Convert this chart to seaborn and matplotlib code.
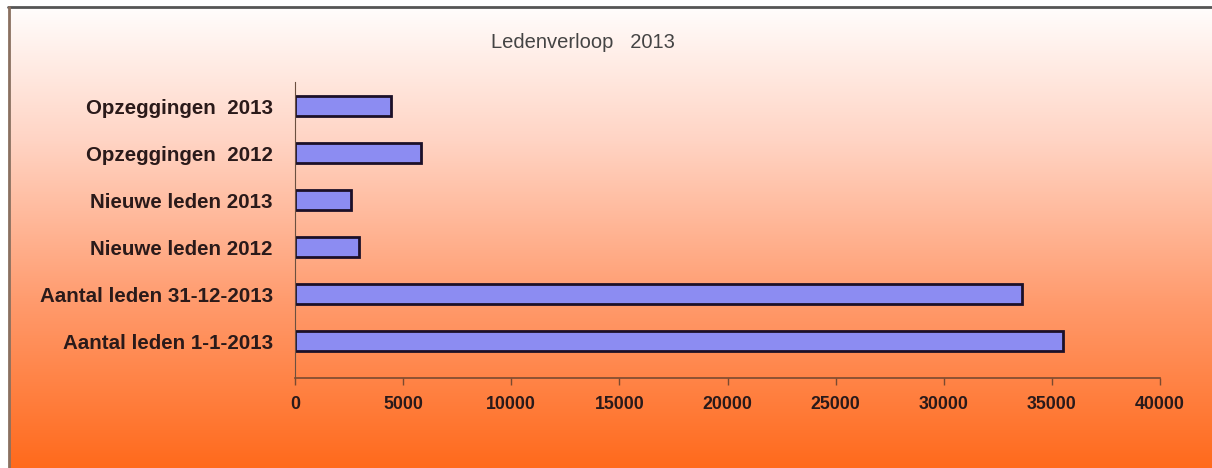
import numpy as np
import pandas as pd
import matplotlib
matplotlib.use("Agg")
import matplotlib.pyplot as plt
from matplotlib.colors import LinearSegmentedColormap
import seaborn as sns

# Data (top to bottom as shown)
categories = ["Opzeggingen  2013", "Opzeggingen  2012", "Nieuwe leden 2013",
              "Nieuwe leden 2012", "Aantal leden 31-12-2013", "Aantal leden 1-1-2013"]
values = [4420, 5840, 2570, 2960, 33600, 35500]
x_ticks = [0, 5000, 10000, 15000, 20000, 25000, 30000, 35000, 40000]
title = "Ledenverloop   2013"

df = pd.DataFrame({"categorie": categories, "aantal": values})

sns.set_style("white")
plt.rcParams["font.family"] = ["Liberation Sans", "DejaVu Sans"]

fig = plt.figure(figsize=(12.12, 4.68), dpi=100)

# Background gradient (white on top, orange at the bottom)
bg = fig.add_axes([0, 0, 1, 1], zorder=-10)
grad_cmap = LinearSegmentedColormap.from_list(
    "bg", [(0.0, "#ff6a1c"), (0.35, "#ff9a6c"), (0.7, "#ffd4c4"), (1.0, "#ffffff")])
grad = np.linspace(0, 1, 256).reshape(-1, 1)
bg.imshow(grad, aspect="auto", cmap=grad_cmap, origin="lower",
          extent=[0, 1, 0, 1])
bg.set_xlim(0, 1)
bg.set_ylim(0, 1)
bg.axis("off")
# frame at top and left
bg.plot([8 / 1212, 1], [1 - 7 / 468, 1 - 7 / 468], color="#555555", lw=2)
bg.plot([9 / 1212, 9 / 1212], [0, 1 - 7 / 468], color="#8a7060", lw=2)
bg.add_patch(plt.Rectangle((0, 0), 8 / 1212, 1, color="white"))
bg.add_patch(plt.Rectangle((0, 1 - 6 / 468), 1, 6 / 468, color="white"))

ax = fig.add_axes([295 / 1212, 90 / 468, 865 / 1212, 296 / 468])
ax.patch.set_alpha(0)

sns.barplot(data=df, x="aantal", y="categorie", orient="h", ax=ax,
            color="#8c8cf2", saturation=1, width=0.42,
            edgecolor="#1c1028", linewidth=2)

ax.set_xlim(0, 40000)
ax.set_ylim(5.78, -0.51)
ax.set_xticks(x_ticks)
ax.set_xticklabels([str(t) for t in x_ticks], fontsize=12.8,
                   fontweight="bold", color="#2a1a1a")
ax.set_yticklabels(categories, fontsize=14.8, fontweight="bold", color="#2a1a1a")
ax.set_xlabel("")
ax.set_ylabel("")

for s in ["top", "right"]:
    ax.spines[s].set_visible(False)
ax.spines["left"].set_color("#6b5040")
ax.spines["bottom"].set_color("#7a4a30")
ax.spines["bottom"].set_linewidth(1.2)
ax.tick_params(axis="x", length=5, width=1, color="#7a4a30", pad=8,
               direction="out", bottom=True)
ax.tick_params(axis="y", length=0, pad=16)

fig.text(583 / 1212, 1 - 42 / 468, title, ha="center", va="center",
         fontsize=14.5, color="#444444")

fig.savefig("out.png", dpi=100)
